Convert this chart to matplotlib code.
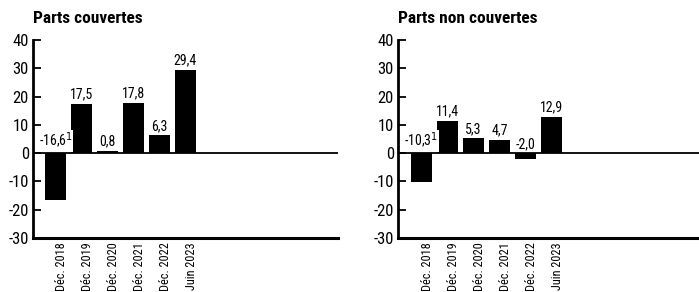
import matplotlib.pyplot as plt
import matplotlib.transforms as mtransforms
import numpy as np

plt.rcParams['font.family'] = ['Roboto Condensed', 'DejaVu Sans']
plt.rcParams['axes.unicode_minus'] = False

categories = ["Déc. 2018", "Déc. 2019", "Déc. 2020", "Déc. 2021", "Déc. 2022", "Juin 2023"]
couvertes = [-16.6, 17.5, 0.8, 17.8, 6.3, 29.4]
non_couvertes = [-10.3, 11.4, 5.3, 4.7, -2.0, 12.9]
notes = ["1", "", "", "", "", ""]

fig = plt.figure(figsize=(6.99, 2.92), dpi=100)


def fmt(v):
    return ("%.1f" % v).replace(".", ",")


def draw(ax, values, title, xlim):
    x = np.arange(len(values))
    ax.bar(x, values, width=0.8, color="black", zorder=2)
    ax.axhline(0, color="black", lw=1.3, zorder=3)
    for xi, v, n in zip(x, values, notes):
        s = fmt(v)
        if n:
            s = s + "$^{" + n + "}$"
        y = max(v, 0) + 0.8
        ax.text(xi, y, s, ha="center", va="bottom", fontsize=10,
                bbox=dict(facecolor="white", edgecolor="none", pad=0.5), zorder=4)
    ax.set_xlim(*xlim)
    ax.set_ylim(-30, 40)
    ax.set_yticks(range(-30, 41, 10))
    ax.set_xticks(x)
    ax.set_xticklabels(categories, rotation=90, fontsize=8.8)
    ax.tick_params(axis="x", length=0, pad=3)
    # labels sit a bit right of the bar centres
    shift = mtransforms.ScaledTranslation(0.06, 0, fig.dpi_scale_trans)
    for lab in ax.get_xticklabels():
        lab.set_transform(lab.get_transform() + shift)
    ax.tick_params(axis="y", direction="in", length=6, width=1.3, labelsize=12, pad=3)
    for s in ["top", "right"]:
        ax.spines[s].set_visible(False)
    ax.spines["left"].set_linewidth(2)
    ax.spines["bottom"].set_linewidth(2.2)
    ax.text(0.0, 1.07, title, transform=ax.transAxes, fontsize=12.5,
            fontweight="bold", ha="left", va="bottom")


ax1 = fig.add_axes([0.0472, 0.185, 0.4363, 0.678])
draw(ax1, couvertes, "Parts couvertes", (-0.87, 10.87))

ax2 = fig.add_axes([0.5694, 0.185, 0.4306, 0.678])
draw(ax2, non_couvertes, "Parts non couvertes", (-0.9, 10.67))

fig.savefig("out.png", dpi=100)
